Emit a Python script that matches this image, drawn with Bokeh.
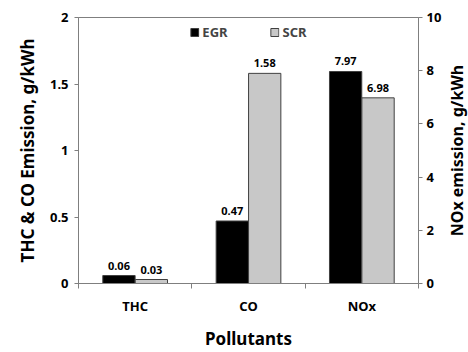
from bokeh.plotting import figure
from bokeh.layouts import row
from bokeh.models import (Range1d, LinearAxis, FixedTicker, ColumnDataSource,
                          Legend, LegendItem, LabelSet, Label)
from bokeh.core.properties import value
from bokeh.embed import file_html
from bokeh.resources import INLINE

categories = ["THC", "CO", "NOx"]
egr = [0.06, 0.47, 7.97]
scr = [0.03, 1.58, 6.98]
egr_labels = ["0.06", "0.47", "7.97"]
scr_labels = ["0.03", "1.58", "6.98"]
left_axis_cats = ["THC", "CO"]   # plotted on left axis
right_axis_cats = ["NOx"]        # plotted on right axis

FONT = "Noto Sans"
AX_COL = "#7f7f7f"

main = figure(width=444, height=352, output_backend="svg", toolbar_location=None,
              x_range=Range1d(0, len(categories)), y_range=Range1d(0, 2),
              min_border_left=78, min_border_right=24, min_border_top=17,
              min_border_bottom=69)
main.extra_y_ranges = {"nox": Range1d(0, 10)}
main.grid.visible = False
main.outline_line_color = AX_COL
main.background_fill_color = "white"
main.border_fill_color = "white"

bw = 0.285
off = 0.143

def make_src(cats, vals, labels, shift):
    xs = [categories.index(c) + 0.5 + shift for c in cats]
    v = [vals[categories.index(c)] for c in cats]
    lb = [labels[categories.index(c)] for c in cats]
    return ColumnDataSource(dict(x=xs, top=v, label=lb))

renderers = {}
for name, vals, labels, shift, fill in [("EGR", egr, egr_labels, -off, "black"),
                                        ("SCR", scr, scr_labels, off, "#c8c8c8")]:
    rl = []
    for cats, rng in [(left_axis_cats, "default"), (right_axis_cats, "nox")]:
        src = make_src(cats, vals, labels, shift)
        r = main.vbar(x="x", top="top", width=bw, source=src, fill_color=fill,
                      line_color="#404040", line_width=1, y_range_name=rng)
        rl.append(r)
        lab = LabelSet(x="x", y="top", text="label", source=src, y_range_name=rng,
                       text_align="center", text_baseline="bottom", y_offset=6,
                       text_font=value(FONT), text_font_style="bold",
                       text_font_size="11px", text_color="black")
        main.add_layout(lab)
    renderers[name] = rl

# axes
xa = main.xaxis[0]
xa.ticker = FixedTicker(ticks=[i + 0.5 for i in range(len(categories))],
                        minor_ticks=list(range(len(categories) + 1)))
xa.major_label_overrides = {i + 0.5: c for i, c in enumerate(categories)}
xa.major_tick_out = 0
xa.major_tick_in = 0
xa.minor_tick_out = 5
xa.minor_tick_in = 0
xa.axis_label = "Pollutants"

ya = main.yaxis[0]
ya.ticker = FixedTicker(ticks=[0, 0.5, 1, 1.5, 2])
ya.major_label_overrides = {0: "0", 0.5: "0.5", 1: "1", 1.5: "1.5", 2: "2"}
ya.axis_label = "THC & CO Emission, g/kWh"

ry = LinearAxis(y_range_name="nox", ticker=FixedTicker(ticks=[0, 2, 4, 6, 8, 10]))
main.add_layout(ry, "right")

for ax in [xa, ya, ry]:
    ax.axis_line_color = AX_COL
    ax.major_tick_line_color = AX_COL
    ax.minor_tick_line_color = AX_COL
    ax.major_label_text_font = FONT
    ax.major_label_text_font_style = "bold"
    ax.major_label_text_font_size = "13px"
    ax.major_label_text_color = "black"
    ax.axis_label_text_font = FONT
    ax.axis_label_text_font_style = "bold"
    ax.axis_label_text_font_size = "17px"
    ax.axis_label_text_color = "black"
for ax in [ya, ry]:
    ax.major_tick_out = 4
    ax.major_tick_in = 0
    ax.minor_tick_out = 0
    ax.minor_tick_in = 0
ya.major_label_standoff = 6
ya.axis_label_standoff = 8
ry.major_label_standoff = 4
xa.major_label_standoff = 8
xa.axis_label_standoff = 9

legend = Legend(items=[LegendItem(label="EGR", renderers=[renderers["EGR"][0]]),
                       LegendItem(label="SCR", renderers=[renderers["SCR"][0]])],
                orientation="horizontal", location="top_center",
                border_line_color=None, background_fill_alpha=0,
                label_text_font=FONT, label_text_font_style="bold",
                label_text_font_size="13px", glyph_width=10, glyph_height=10,
                spacing=42, label_standoff=3, margin=6, padding=4)
main.add_layout(legend)

# narrow strip holding the right axis title, reading bottom-to-top
side = figure(width=24, height=352, output_backend="svg", toolbar_location=None,
              x_range=Range1d(0, 1), y_range=Range1d(0, 2),
              x_axis_location=None, y_axis_location=None,
              min_border_left=0, min_border_right=0, min_border_top=17,
              min_border_bottom=69)
side.grid.visible = False
side.outline_line_color = None
side.border_fill_color = "white"
side.add_layout(Label(x=0.5, y=1.0, text="NOx emission, g/kWh",
                      angle=90, angle_units="deg", text_align="center",
                      text_baseline="middle", text_font=FONT,
                      text_font_style="bold", text_font_size="16px",
                      text_color="black"))

p = row(main, side, spacing=0)

open("out.html", "w").write(file_html(p, INLINE))
